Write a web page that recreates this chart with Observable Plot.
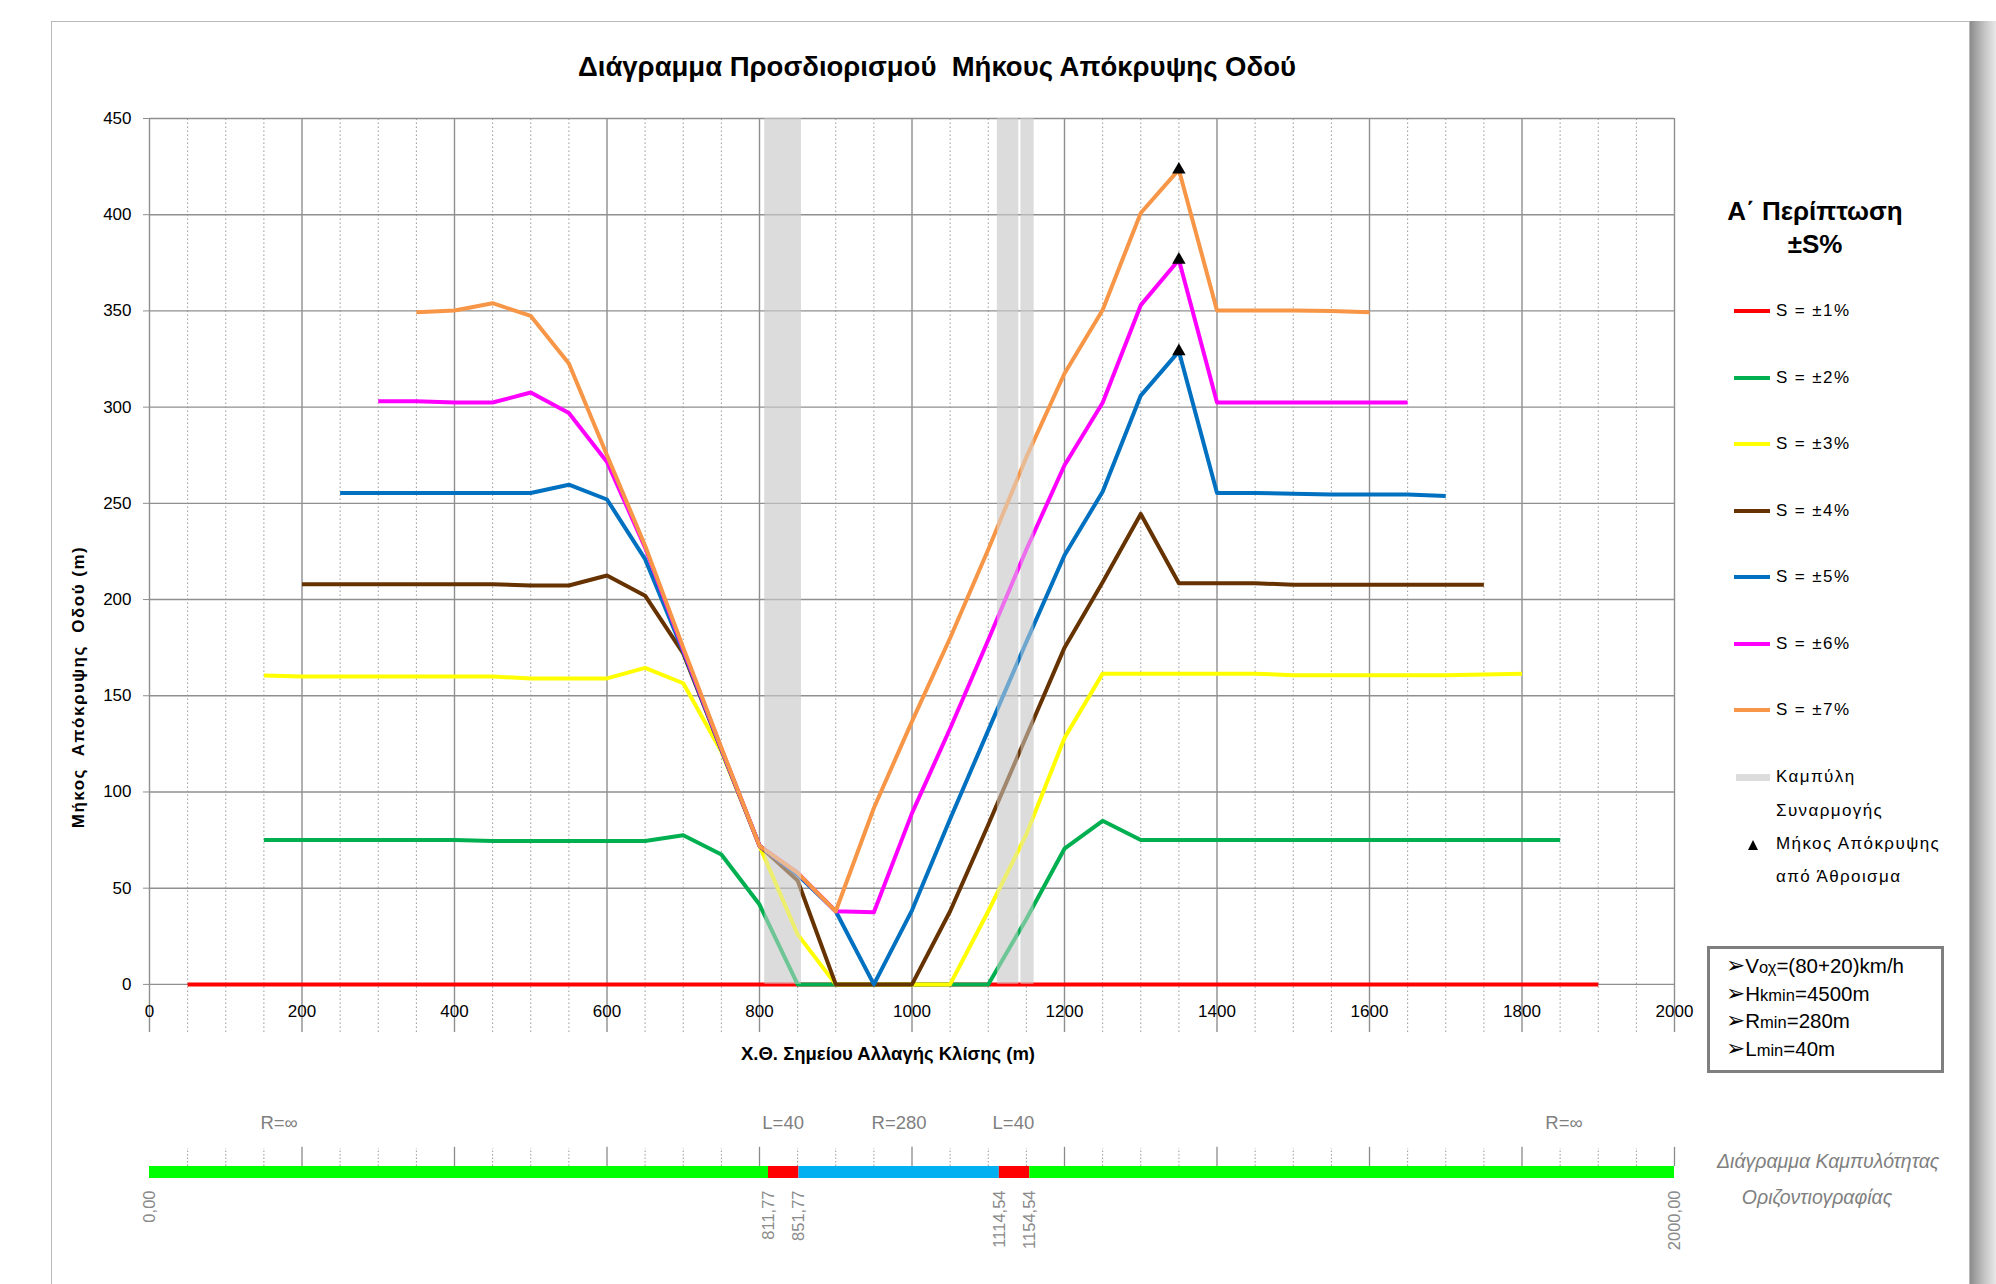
<!DOCTYPE html>
<html>
<head>
<meta charset="utf-8">
<script src="https://cdn.jsdelivr.net/npm/d3@7"></script>
<script src="https://cdn.jsdelivr.net/npm/@observablehq/plot@0.6"></script>
<style>
html,body{margin:0;padding:0;background:#fff;}
body{width:1996px;height:1284px;position:relative;overflow:hidden;font-family:"Liberation Sans",Arial,sans-serif;}
#frame{position:absolute;left:51px;top:21px;width:1917px;height:1300px;border:1.5px solid #b9b9b9;background:#fff;}
#shadow{position:absolute;left:1970px;top:21px;width:26px;height:1263px;background:linear-gradient(to right,#8c8c8c,#c4c4c4 55%,#e8e8e8);}
.abs{position:absolute;white-space:nowrap;}
#title{left:0;width:1874px;top:51px;text-align:center;font-weight:bold;font-size:27.5px;color:#000;}
#xtitle{left:0;width:1776px;top:1043px;text-align:center;font-weight:bold;font-size:18.5px;}
#ytitle{left:79px;top:687px;transform:translate(-50%,-50%) rotate(-90deg);font-weight:bold;font-size:17px;letter-spacing:1.5px;}
#legtitle{left:1715px;width:200px;top:195px;text-align:center;font-weight:bold;font-size:26px;line-height:33px;}
.leg{font-size:17px;letter-spacing:1.4px;color:#000;}
.sw{position:absolute;height:4px;width:36px;}
#info{left:1707px;top:946px;width:231px;height:117px;border:3px solid #7f7f7f;font-size:20.5px;line-height:25.5px;padding-top:4px;box-sizing:content-box;}
#info div{padding-left:16px;}
#info .ar{font-family:"DejaVu Sans",sans-serif;font-size:23px;font-weight:bold;line-height:20px;}
#info .sm{font-size:16.5px;}
.cap{font-style:italic;color:#7f7f7f;font-size:19.5px;font-family:"Liberation Sans Narrow","Liberation Sans",sans-serif;}
</style>
</head>
<body>
<div id="frame"></div>
<div id="shadow"></div>
<div id="title" class="abs">Διάγραμμα Προσδιορισμού&nbsp; Μήκους Απόκρυψης Οδού</div>
<div id="ytitle" class="abs">Μήκος&nbsp; Απόκρυψης&nbsp; Οδού (m)</div>
<div id="xtitle" class="abs">Χ.Θ. Σημείου Αλλαγής Κλίσης (m)</div>
<div id="legtitle" class="abs">Α΄ Περίπτωση<br>±S%</div>
<div id="info" class="abs">
  <div><span class="ar">➢</span>V<span class="sm">οχ</span>=(80+20)km/h</div>
  <div><span class="ar">➢</span>H<span class="sm">kmin</span>=4500m</div>
  <div><span class="ar">➢</span>R<span class="sm">min</span>=280m</div>
  <div><span class="ar">➢</span>L<span class="sm">min</span>=40m</div>
</div>
<div class="abs cap" style="left:1717px;width:200px;text-align:center;top:1150px;">Διάγραμμα Καμπυλότητας</div>
<div class="abs cap" style="left:1717px;width:200px;text-align:center;top:1186px;">Οριζοντιογραφίας</div>
<div id="main" class="abs" style="left:0;top:0;"></div>
<div id="curv" class="abs" style="left:0;top:1090px;"></div>
<div id="legend"></div>
<script>
// ---------- data ----------
const chainage = [50,100,150,200,250,300,350,400,450,500,550,600,650,700,750,800,850,900,950,1000,1050,1100,1150,1200,1250,1300,1350,1400,1450,1500,1550,1600,1650,1700,1750,1800,1850,1900];
const s1 = [0,0,0,0,0,0,0,0,0,0,0,0,0,0,0,0,0,0,0,0,0,0,0,0,0,0,0,0,0,0,0,0,0,0,0,0,0,0];
const s2 = [null,null,75,75,75,75,75,75,74.5,74.5,74.5,74.5,74.5,77.5,67.5,41.5,0,0,0,0,0,0,34,70.5,85,75,75,75,75,75,75,75,75,75,75,75,75,null];
const s3 = [null,null,160.5,160,160,160,160,160,160,159,159,159,164.5,156.5,121,72,26,0,0,0,0,38,78,128,161.5,161.5,161.5,161.5,161.5,160.7,160.7,160.7,160.7,160.7,161,161.5,null,null];
const s4 = [null,null,null,208,208,208,208,208,208,207.3,207.3,212.5,202,172,122,72,54,0,0,0,38,83,129,175,209,244.5,208.5,208.5,208.5,207.7,207.7,207.7,207.7,207.7,207.7,null,null,null];
const s5 = [null,null,null,null,255.4,255.4,255.4,255.4,255.4,255.4,259.7,252,221,173,122,72,57,38,0,38.5,86,132,178,223,256,306,329,255.4,255.4,255,254.6,254.6,254.6,253.8,null,null,null,null];
const s6 = [null,null,null,null,null,303,303,302.4,302.4,307.6,297,271.5,227,174,122.5,72,58,38,37.5,89,133,179,226,269.8,302.3,353,376.6,302.4,302.4,302.4,302.4,302.4,302.4,null,null,null,null,null];
const s7 = [null,null,null,null,null,null,349.3,350.2,354,347.4,322.7,275,228,175,123,72,58,38,91.7,136.7,180,226,274,317.5,350.5,400.9,423.4,350.2,350.2,350.2,350,349.3,null,null,null,null,null,null];
const seriesValues = [s1,s2,s3,s4,s5,s6,s7];
const seriesNames = ["S = ±1%","S = ±2%","S = ±3%","S = ±4%","S = ±5%","S = ±6%","S = ±7%"];
const seriesColors = ["#ff0000","#00b050","#ffff00","#663300","#0070c0","#ff00ff","#f79646"];

const peakX = [1350,1350,1350];
const peakY = [329,376.6,423.4];

const bandStart = [807,1112,1143];
const bandEnd = [855,1140,1160];

const xMajor = [0,200,400,600,800,1000,1200,1400,1600,1800,2000];
const xMinor = [50,100,150,250,300,350,450,500,550,650,700,750,850,900,950,1050,1100,1150,1250,1300,1350,1450,1500,1550,1650,1700,1750,1850,1900,1950];
const yTicks = [0,50,100,150,200,250,300,350,400,450];

const segStart = [0,811.77,851.77,1114.54,1154.54];
const segEnd = [811.77,851.77,1114.54,1154.54,2000];
const segColor = ["#00ff00","#ff0000","#00b0f0","#ff0000","#00ff00"];
const curvLabelText = ["R=∞","L=40","R=280","L=40","R=∞"];
const curvLabelX = [170,831,983,1133,1855];
const stationValues = [0,811.77,851.77,1114.54,1154.54,2000];
const stationLabels = ["0,00","811,77","851,77","1114,54","1154,54","2000,00"];

// ---------- build ----------
const bands = bandStart.map((s,i)=>({x1:s,x2:bandEnd[i]}));
const peaks = peakX.map((x,i)=>({x, y:peakY[i]}));
const lineMarks = seriesValues.map((vals,k)=>{
  const rows = chainage.map((x,i)=>({x, y: vals[i]})).filter(d=>d.y!=null);
  return Plot.line(rows, {x:"x", y:"y", stroke: seriesColors[k], strokeWidth: 4, strokeLinejoin:"round", strokeLinecap:"butt"});
});

const main = Plot.plot({
  width: 1996, height: 1060,
  marginLeft: 149, marginRight: 322, marginTop: 118, marginBottom: 28,
  x: {domain: [0, 2000]},
  y: {domain: [-25, 450]},
  style: {background: "transparent", fontFamily: "Liberation Sans, Arial, sans-serif", fontSize: "17px", color: "#000"},
  marks: [
    Plot.ruleX(xMinor, {y1: -25, y2: 450, stroke: "#9a9a9a", strokeWidth: 1, strokeDasharray: "1.5,2.5"}),
    Plot.rect(bands, {x1: "x1", x2: "x2", y1: 0, y2: 450, fill: "#dcdcdc"}),
    Plot.ruleX(xMajor, {y1: -25, y2: 450, stroke: "#8f8f8f", strokeWidth: 1.4}),
    Plot.ruleY(yTicks, {x1: 0, x2: 2000, stroke: "#8f8f8f", strokeWidth: 1.4}),
    ...lineMarks,
    Plot.rect(bands, {x1: "x1", x2: "x2", y1: 0, y2: 450, fill: "#dcdcdc", fillOpacity: 0.5}),
    Plot.dot(peaks, {x: "x", y: "y", symbol: "triangle", fill: "#000", r: 5}),
    Plot.axisY({ticks: yTicks, tickSize: 6, tickPadding: 12, label: null, stroke: "#8f8f8f", tickFormat: d => String(d)}),
    Plot.axisX({ticks: xMajor, tickSize: 0, tickPadding: 0, dy: -28, label: null, tickFormat: d => String(d)})
  ]
});
document.getElementById("main").appendChild(main);

const segments = segStart.map((s,i)=>({x1:s, x2:segEnd[i], c:segColor[i]}));
const curvLabels = curvLabelText.map((t,i)=>({x:curvLabelX[i], t}));
const stations = stationValues.map((v,i)=>({x:v, t:stationLabels[i]}));
const curvMajor = xMajor.filter(v=>v>0);
const curv = Plot.plot({
  width: 1996, height: 194,
  marginLeft: 149, marginRight: 322, marginTop: 76, marginBottom: 106,
  x: {domain: [0, 2000], axis: null},
  y: {domain: [0, 1], axis: null},
  color: {type: "identity"},
  style: {background: "transparent", fontFamily: "Liberation Sans, Arial, sans-serif", fontSize: "15px"},
  marks: [
    Plot.ruleX(xMinor, {y1: 1, y2: 2.5, stroke: "#9a9a9a", strokeDasharray: "1.5,2"}),
    Plot.ruleX(curvMajor, {y1: 1, y2: 2.6, stroke: "#8a8a8a", strokeWidth: 1.3}),
    Plot.rect(segments, {x1: "x1", x2: "x2", y1: 0, y2: 1, fill: "c"}),
    Plot.text(curvLabels, {x: "x", y: 4.6, text: "t", fill: "#7f7f7f", fontSize: 18.5, fontFamily: "Liberation Sans Narrow, Liberation Sans, sans-serif"}),
    Plot.text(stations, {x: "x", y: -1, text: "t", rotate: -90, textAnchor: "end", fill: "#8a8a8a", fontSize: 16.5, ariaLabel: "stations"})
  ]
});
d3.select(curv).selectAll("g[aria-label=stations] text").style("letter-spacing", "3px");
document.getElementById("curv").appendChild(curv);

// ---------- legend ----------
const leg = document.getElementById("legend");
seriesNames.forEach((n,i)=>{
  const y = 311 + i*66.5;
  const sw = document.createElement("div");
  sw.className = "sw"; sw.style.left = "1734px"; sw.style.top = (y-2)+"px"; sw.style.background = seriesColors[i];
  leg.appendChild(sw);
  const t = document.createElement("div");
  t.className = "abs leg"; t.style.left = "1776px"; t.style.top = (y-10)+"px"; t.textContent = n;
  leg.appendChild(t);
});
const extra = [["Καμπύλη",777],["Συναρμογής",811],["Μήκος Απόκρυψης",844],["από Άθροισμα",877]];
extra.forEach(([n,y])=>{
  const t = document.createElement("div");
  t.className = "abs leg"; t.style.left = "1776px"; t.style.top = (y-10)+"px"; t.textContent = n;
  leg.appendChild(t);
});
const gs = document.createElement("div");
gs.className = "sw"; gs.style.left = "1736px"; gs.style.top = "774px"; gs.style.height = "7px"; gs.style.width = "34px"; gs.style.background = "#dcdcdc";
leg.appendChild(gs);
const tri = document.createElement("div");
tri.className = "abs"; tri.style.left = "1747px"; tri.style.top = "837px";
tri.innerHTML = '<svg width="12" height="12"><polygon points="6,1 11,11 1,11" fill="#000"/></svg>';
leg.appendChild(tri);
</script>
</body>
</html>
